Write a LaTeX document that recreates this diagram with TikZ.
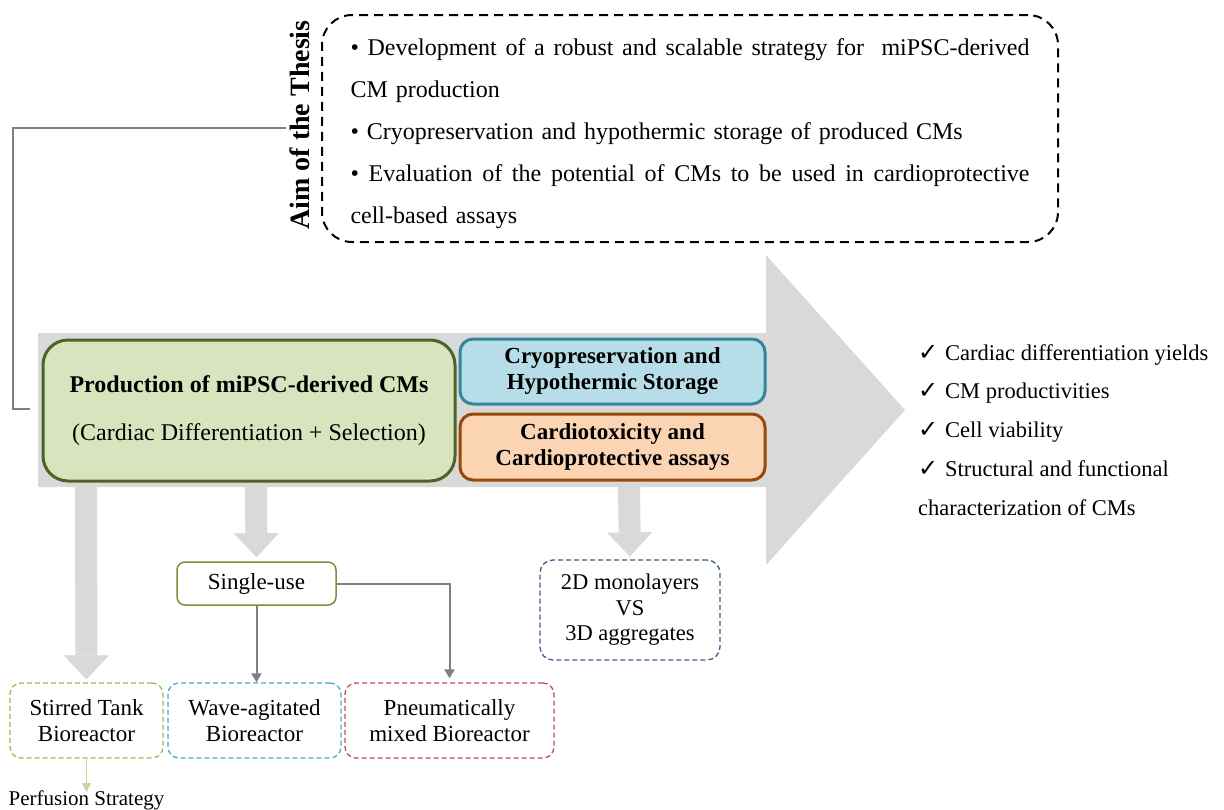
\documentclass[tikz,border=0pt]{standalone}
\usepackage{fontspec}
\setmainfont{Liberation Serif}
\newfontfamily\symfont{DejaVu Sans}
\usetikzlibrary{arrows.meta}
\definecolor{arrowgray}{HTML}{D9D9D9}
\definecolor{linegray}{HTML}{808080}
\definecolor{prodfill}{HTML}{D7E4BD}
\definecolor{prodline}{HTML}{4F6228}
\definecolor{cryofill}{HTML}{B7DEE8}
\definecolor{cryoline}{HTML}{31859C}
\definecolor{cardfill}{HTML}{FBD4B4}
\definecolor{cardline}{HTML}{984807}
\definecolor{singleline}{HTML}{77933C}
\definecolor{stirline}{HTML}{9BBB59}
\definecolor{waveline}{HTML}{4BACC6}
\definecolor{pneuline}{HTML}{C0504D}
\definecolor{twodline}{HTML}{3F5F8A}
\definecolor{perfline}{HTML}{C3D69B}
\newcommand\chk{\makebox[27pt][l]{\symfont\fontsize{24}{24}\selectfont ✓}}
\newcommand\jline[1]{\makebox[679pt][s]{\spaceskip=0.25em plus 2em minus 0.05em #1}}
\begin{document}
\begin{tikzpicture}[x=1pt,y=-1pt,
  conn/.style={draw=linegray, line width=2pt},
  sconn/.style={conn, -{Triangle[width=10pt 0 0,length=9pt 0 0]}},
  bigdown/.style={draw=arrowgray, line width=22pt,
    -{Triangle[width=45pt 0 0,length=24pt 0 0,line width=0.1pt 0 0]}},
  aimbox/.style={draw=black, line width=2pt, dash pattern=on 9pt off 6pt,
    rounded corners=30pt, minimum width=736pt, minimum height=227pt,
    text width=679pt, align=left, inner xsep=28.5pt,
    font=\fontsize{24}{42}\selectfont},
  solidbox/.style={line width=3pt, align=center, inner sep=0pt},
  dbox/.style={line width=1.3pt, dash pattern=on 5pt off 3pt, rounded corners=11pt,
    minimum height=75pt, align=center, inner sep=0pt, font=\fontsize{23}{26}\selectfont}
]
\useasboundingbox (0,0) rectangle (1224,809);
\fill[white] (0,0) rectangle (1224,809);

% big gray arrow
\fill[arrowgray] (38,333) -- (766,333) -- (766,255) -- (905,410) -- (766,565)
  -- (766,487) -- (38,487) -- cycle;
\coordinate (d1) at (86,487);
\coordinate (d2) at (256,487);
\coordinate (d3) at (629,487);

% aim of the thesis
\node[aimbox] (aims) at (690,128.5) {%
\jline{\rule{0pt}{27pt}• Development of a robust and scalable strategy for\ \ miPSC-derived}\\
CM production\\
• Cryopreservation and hypothermic storage of produced CMs\\
\jline{• Evaluation of the potential of CMs to be used in cardioprotective}\\
cell-based assays};
\node[rotate=90, font=\bfseries\fontsize{28}{28}\selectfont, inner sep=4pt] (aim) at (300,125) {Aim of the Thesis};

% boxes on the arrow
\node[solidbox, draw=prodline, fill=prodfill, rounded corners=25pt,
  minimum width=412pt, minimum height=141pt, font=\fontsize{24}{48}\selectfont]
  (prod) at (249,410.5) {\textbf{Production of miPSC-derived CMs}\\(Cardiac Differentiation + Selection)};
\node[solidbox, draw=cryoline, fill=cryofill, rounded corners=13pt,
  minimum width=305pt, minimum height=65pt, font=\bfseries\fontsize{23}{26}\selectfont]
  (cryo) at (612.5,371.5) {Cryopreservation and\\Hypothermic Storage};
\node[solidbox, draw=cardline, fill=cardfill, rounded corners=13pt,
  minimum width=305pt, minimum height=66pt, font=\bfseries\fontsize{23}{26}\selectfont]
  (card) at (612.5,447) {Cardiotoxicity and\\Cardioprotective assays};

% connector from the aim
\coordinate (elbow) at (13,128);
\coordinate (lineend) at (30,409);
\draw[conn] (aim.north |- elbow) -- (elbow) |- (lineend);

% results
\node[anchor=north west, align=left, inner sep=0pt, font=\fontsize{22.5}{38.75}\selectfont]
  (checks) at (918,344) {\chk Cardiac differentiation yields\\
\chk CM productivities\\
\chk Cell viability\\
\chk Structural and functional\\
characterization of CMs};

% lower boxes
\node[draw=singleline, line width=1.5pt, rounded corners=8pt, fill=white,
  minimum width=159pt, minimum height=43pt, inner sep=0pt, font=\fontsize{23}{26}\selectfont]
  (single) at (256.5,583.5) {Single-use};
\node[dbox, draw=stirline, minimum width=153pt] (stir) at (86.5,720.5) {Stirred Tank\\Bioreactor};
\node[dbox, draw=waveline, minimum width=173pt] (wave) at (254.5,720.5) {Wave-agitated\\Bioreactor};
\node[dbox, draw=pneuline, minimum width=209pt] (pneu) at (449.5,720.5) {Pneumatically\\mixed Bioreactor};
\node[dbox, draw=twodline, minimum width=180pt, minimum height=100pt, rounded corners=13pt,
  font=\fontsize{22.5}{25.5}\selectfont] (twod) at (630,610) {2D monolayers\\VS\\3D aggregates};
\node[anchor=base, inner sep=0pt, font=\fontsize{21}{21}\selectfont] (perf) at (86.5,805) {Perfusion Strategy};

% thick downward arrows
\draw[bigdown, shorten >=3pt] (d1) -- (stir.north);
\draw[bigdown, shorten >=4pt] (d2) -- (single.north);
\draw[bigdown, shorten >=3pt] (d3) -- (twod.north);

% thin connectors
\draw[sconn] (single.south) -- (single.south |- wave.north);
\draw[sconn, shorten >=4pt] (single.east) -| (pneu.north);
\draw[draw=perfline, line width=1.5pt, -{Triangle[width=9pt 0 0,length=9pt 0 0]}] (stir.south) -- ([yshift=-2pt]perf.north);
\end{tikzpicture}
\end{document}
